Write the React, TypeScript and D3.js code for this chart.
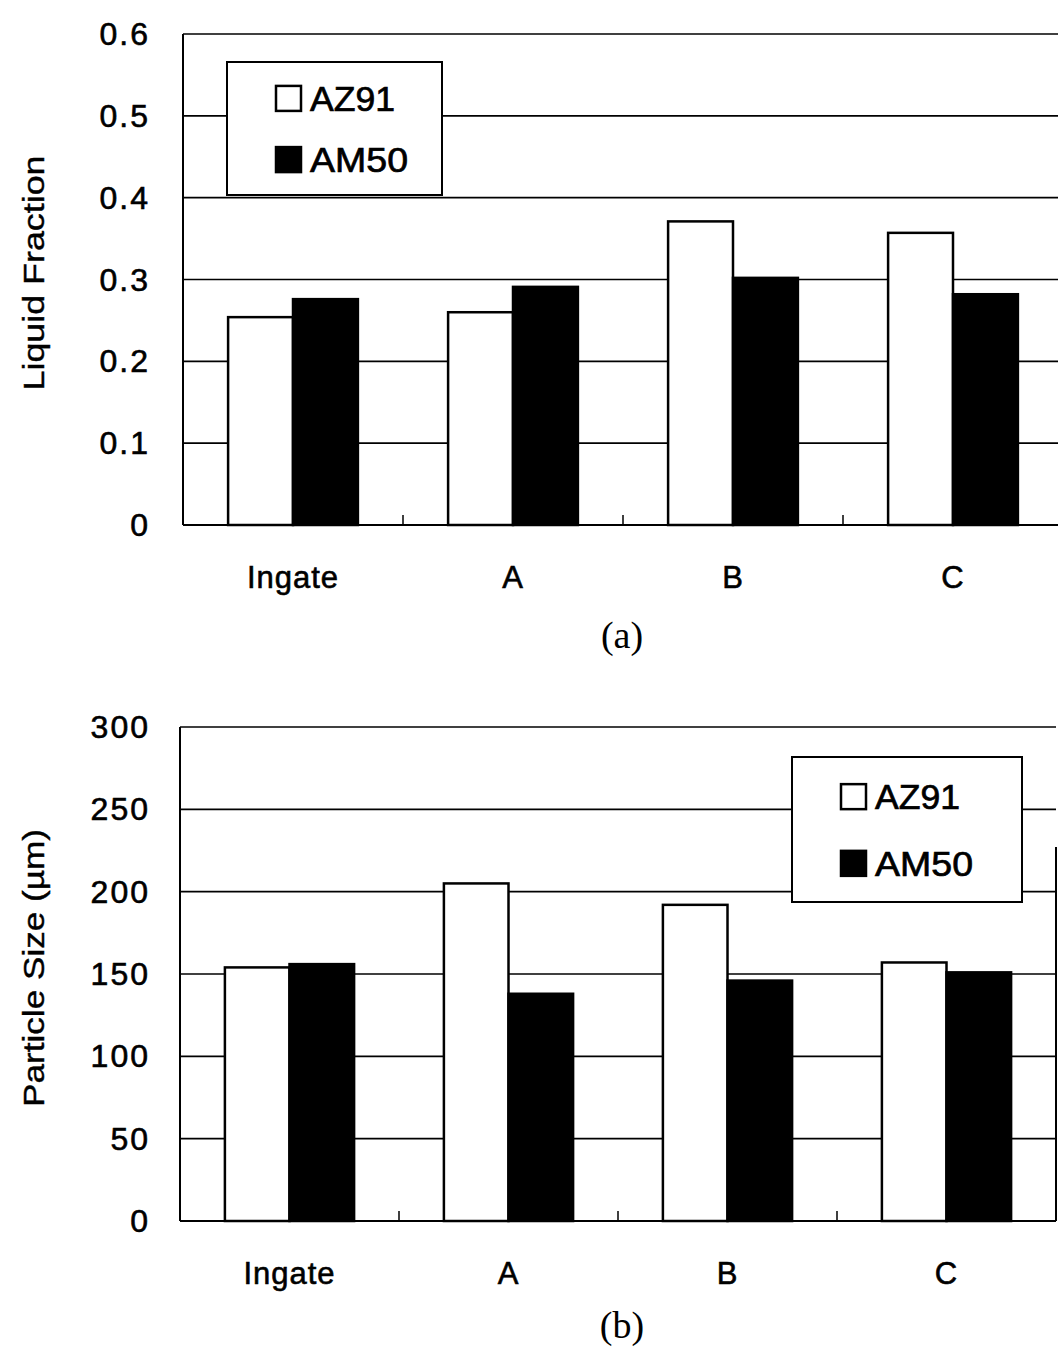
import React from "react";
import * as d3 from "d3";

const categories = ["Ingate", "A", "B", "C"];
const seriesNames = ["AZ91", "AM50"];
const seriesFills = ["#ffffff", "#000000"];

// (a) liquid fraction
const liquidAZ91 = [0.254, 0.26, 0.371, 0.357];
const liquidAM50 = [0.276, 0.291, 0.302, 0.282];
const liquidTicks = [0, 0.1, 0.2, 0.3, 0.4, 0.5, 0.6];

// (b) particle size
const sizeAZ91 = [154, 205, 192, 157];
const sizeAM50 = [156, 138, 146, 151];
const sizeTicks = [0, 50, 100, 150, 200, 250, 300];

const sans = "'Liberation Sans', Arial, Helvetica, sans-serif";
const serif = "'Liberation Serif', 'Times New Roman', serif";

interface PanelProps {
  values: number[][];
  ticks: number[];
  left: number;
  right: number;
  top: number;
  bottom: number;
  yTitle: string;
  yTitleCenter: number;
  yTitleLength: number;
  legend: { x: number; y: number; w: number; h: number };
  caption: string;
  captionY: number;
  rightLine?: number;
}

const Panel: React.FC<PanelProps> = ({
  values,
  ticks,
  left,
  right,
  top,
  bottom,
  yTitle,
  yTitleCenter,
  yTitleLength,
  legend,
  caption,
  captionY,
  rightLine,
}) => {
  const x0 = d3
    .scaleBand<string>()
    .domain(categories)
    .range([left, right])
    .paddingInner(0.41)
    .paddingOuter(0.205);
  const x1 = d3
    .scaleBand<string>()
    .domain(seriesNames)
    .range([0, x0.bandwidth()]);
  const y = d3
    .scaleLinear()
    .domain([ticks[0], ticks[ticks.length - 1]])
    .range([bottom, top]);

  // small tick marks at group boundaries
  const step = x0.step();
  const boundaries = d3.range(1, categories.length).map((i) => left + i * step);

  return (
    <g>
      {/* gridlines */}
      {ticks.slice(1).map((t) => (
        <line
          key={"g" + t}
          x1={left}
          x2={right}
          y1={y(t)}
          y2={y(t)}
          stroke="#000"
          strokeWidth={1.6}
        />
      ))}
      {/* y tick labels */}
      {ticks.map((t) => (
        <text
          key={"t" + t}
          x={150}
          y={y(t)}
          textAnchor="end"
          dominantBaseline="central"
          fontFamily={sans}
          fontSize={32}
          letterSpacing={2}
          stroke="#000"
          strokeWidth={0.6}
        >
          {String(t)}
        </text>
      ))}
      {/* bars */}
      {categories.map((c, i) => (
        <g key={c} transform={`translate(${x0(c)},0)`}>
          {seriesNames.map((s, j) => (
            <rect
              key={s}
              x={x1(s)}
              y={y(values[j][i])}
              width={x1.bandwidth()}
              height={bottom - y(values[j][i])}
              fill={seriesFills[j]}
              stroke="#000"
              strokeWidth={2.5}
            />
          ))}
        </g>
      ))}
      {/* axes */}
      <line x1={left} x2={left} y1={top} y2={bottom} stroke="#000" strokeWidth={2} />
      <line x1={left} x2={right} y1={bottom} y2={bottom} stroke="#000" strokeWidth={2} />
      {rightLine !== undefined && (
        <line x1={right} x2={right} y1={rightLine} y2={bottom} stroke="#000" strokeWidth={2} />
      )}
      {boundaries.map((b) => (
        <line key={"b" + b} x1={b} x2={b} y1={bottom} y2={bottom - 10} stroke="#000" strokeWidth={1.5} />
      ))}
      {/* category labels */}
      {categories.map((c) => (
        <text
          key={"l" + c}
          x={(x0(c) ?? 0) + x0.bandwidth() / 2}
          y={bottom + 63}
          textAnchor="middle"
          fontFamily={sans}
          fontSize={31}
          letterSpacing={1}
          stroke="#000"
          strokeWidth={0.6}
        >
          {c}
        </text>
      ))}
      {/* y title */}
      <text
        transform={`translate(44,${yTitleCenter}) rotate(-90)`}
        textAnchor="middle"
        fontFamily={sans}
        fontSize={30}
        textLength={yTitleLength}
        lengthAdjust="spacingAndGlyphs"
        stroke="#000"
        strokeWidth={0.4}
      >
        {yTitle}
      </text>
      {/* legend */}
      <rect
        x={legend.x}
        y={legend.y}
        width={legend.w}
        height={legend.h}
        fill="#fff"
        stroke="#000"
        strokeWidth={2}
      />
      {seriesNames.map((s, j) => {
        const cy = legend.y + legend.h * (j === 0 ? 0.27 : 0.73);
        return (
          <g key={"lg" + s}>
            <rect
              x={legend.x + 49}
              y={cy - 12}
              width={25}
              height={25}
              fill={seriesFills[j]}
              stroke="#000"
              strokeWidth={2.5}
            />
            <text
              x={legend.x + 83}
              y={cy + 13}
              fontFamily={sans}
              fontSize={35}
              textLength={s === "AZ91" ? 85 : 98}
              lengthAdjust="spacingAndGlyphs"
              stroke="#000"
              strokeWidth={0.7}
            >
              {s}
            </text>
          </g>
        );
      })}
      {/* caption */}
      <text
        x={622}
        y={captionY}
        textAnchor="middle"
        fontFamily={serif}
        fontSize={38}
      >
        {caption}
      </text>
    </g>
  );
};

const App: React.FC = () => {
  return (
    <div style={{ position: "absolute", left: 0, top: 0 }}>
      <svg width={1058} height={1348} style={{ display: "block", background: "#fff" }}>
        <rect width={1058} height={1348} fill="#fff" />
        <Panel
          values={[liquidAZ91, liquidAM50]}
          ticks={liquidTicks}
          left={183}
          right={1063}
          top={34}
          bottom={525}
          yTitle="Liquid Fraction"
          yTitleCenter={273}
          yTitleLength={235}
          legend={{ x: 227, y: 62, w: 215, h: 133 }}
          caption="(a)"
          captionY={648}
        />
        <Panel
          values={[sizeAZ91, sizeAM50]}
          ticks={sizeTicks}
          left={180}
          right={1056}
          top={727}
          bottom={1221}
          yTitle="Particle Size (µm)"
          yTitleCenter={968}
          yTitleLength={278}
          legend={{ x: 792, y: 757, w: 230, h: 145 }}
          caption="(b)"
          captionY={1338}
          rightLine={847}
        />
      </svg>
    </div>
  );
};

export default App;
